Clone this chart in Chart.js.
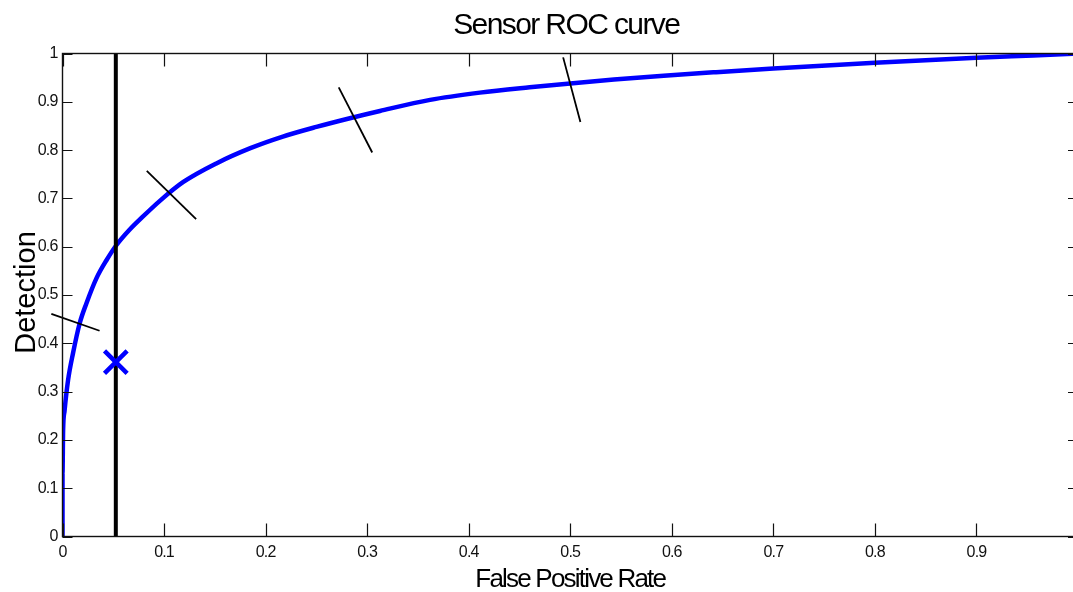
<!DOCTYPE html>
<html>
<head>
<meta charset="utf-8">
<title>Sensor ROC curve</title>
<script src="https://cdn.jsdelivr.net/npm/chart.js@4/dist/chart.umd.min.js"></script>
<style>
  html, body { margin: 0; padding: 0; background: #fff; overflow: hidden; }
  canvas { display: block; }
</style>
</head>
<body>
<canvas id="roc" width="1078" height="592"></canvas>
<script>
// ROC curve: false positive rate vs detection probability
const fpr = [0, 0, 0.0006, 0.002, 0.0055, 0.0104, 0.017, 0.0236, 0.0335, 0.0433, 0.053, 0.066, 0.078,
             0.097, 0.119, 0.152, 0.185, 0.217, 0.25, 0.283, 0.3126, 0.362, 0.411, 0.46, 0.50, 0.543,
             0.592, 0.641, 0.70, 0.80, 0.90, 0.956, 1.0];
const detection = [0, 0.13, 0.22, 0.26, 0.324, 0.38, 0.442, 0.483, 0.535, 0.572, 0.603, 0.635, 0.66,
                   0.697, 0.734, 0.773, 0.804, 0.828, 0.848, 0.866, 0.881, 0.904, 0.919, 0.930, 0.938, 0.946,
                   0.954, 0.961, 0.969, 0.981, 0.991, 0.996, 1.0];

// short threshold marks crossing the curve (start / end points)
const markStartFpr = [-0.011, 0.083, 0.272, 0.493];
const markStartDet = [0.461, 0.757, 0.930, 0.992];
const markEndFpr   = [0.0365, 0.1316, 0.305, 0.510];
const markEndDet   = [0.426, 0.657, 0.795, 0.858];

// operating threshold and measured sensor point
const thresholdFpr = 0.0525;
const operatingFpr = 0.0525;
const operatingDet = 0.361;

// axis ticks and their labels
const xTickValues = [0, 0.1, 0.2, 0.3, 0.4, 0.5, 0.6, 0.7, 0.8, 0.9, 1];
const xTickLabels = ['0', '0.1', '0.2', '0.3', '0.4', '0.5', '0.6', '0.7', '0.8', '0.9', ''];
const yTickValues = [0, 0.1, 0.2, 0.3, 0.4, 0.5, 0.6, 0.7, 0.8, 0.9, 1];
const yTickLabels = ['0', '0.1', '0.2', '0.3', '0.4', '0.5', '0.6', '0.7', '0.8', '0.9', '1'];

const titleText = 'Sensor ROC curve';
const xTitleText = 'False Positive Rate';
const yTitleText = 'Detection';

const FONT = '"Liberation Sans", Arial, Helvetica, sans-serif';

const curvePoints = fpr.map((x, i) => ({ x, y: detection[i] }));
const markDatasets = markStartFpr.map((x, i) => ({
  data: [{ x, y: markStartDet[i] }, { x: markEndFpr[i], y: markEndDet[i] }],
  borderColor: '#000',
  borderWidth: 1.8,
  pointRadius: 0,
  showLine: true,
  clip: false,
  order: 1
}));

// frame, inward tick marks and texts
const framePlugin = {
  id: 'frame',
  beforeDraw(chart) {
    chart.ctx.letterSpacing = '-0.8px';
  },
  afterDraw(chart) {
    const { ctx, chartArea: a, scales: { x, y } } = chart;
    ctx.save();
    ctx.strokeStyle = '#111';
    ctx.lineWidth = 1.4;
    ctx.strokeRect(a.left, a.top, a.right - a.left, a.bottom - a.top);
    ctx.lineWidth = 1.2;
    ctx.beginPath();
    xTickValues.forEach(v => {
      const px = Math.round(x.getPixelForValue(v)) + 0.5;
      ctx.moveTo(px, a.bottom); ctx.lineTo(px, a.bottom - 13);
      ctx.moveTo(px, a.top); ctx.lineTo(px, a.top + 13);
    });
    yTickValues.forEach(v => {
      const py = Math.round(y.getPixelForValue(v)) + 0.5;
      ctx.moveTo(a.left, py); ctx.lineTo(a.left + 10, py);
      ctx.moveTo(a.right, py); ctx.lineTo(a.right - 10, py);
    });
    ctx.stroke();

    ctx.fillStyle = '#000';
    ctx.textAlign = 'center';
    ctx.textBaseline = 'alphabetic';
    const cx = (a.left + a.right) / 2;
    ctx.font = '30px ' + FONT;
    ctx.letterSpacing = '-1.6px';
    ctx.fillText(titleText, cx - 4, 34);
    ctx.font = '26px ' + FONT;
    ctx.letterSpacing = '-1.8px';
    ctx.fillText(xTitleText, cx, 587);
    ctx.font = '29px ' + FONT;
    ctx.letterSpacing = '0px';
    ctx.translate(35, (a.top + a.bottom) / 2 - 2.5);
    ctx.rotate(-Math.PI / 2);
    ctx.fillText(yTitleText, 0, 0);
    ctx.restore();
  }
};

new Chart(document.getElementById('roc'), {
  type: 'scatter',
  data: {
    datasets: [
      {
        data: [{ x: operatingFpr, y: operatingDet }],
        pointStyle: 'crossRot',
        pointRadius: 16,
        pointBorderWidth: 4.5,
        borderColor: '#0000ff',
        backgroundColor: '#0000ff',
        showLine: false,
        order: 0
      },
      {
        data: [{ x: thresholdFpr, y: 0 }, { x: thresholdFpr, y: 1 }],
        borderColor: '#000',
        borderWidth: 4,
        pointRadius: 0,
        showLine: true,
        order: 1
      },
      ...markDatasets,
      {
        data: curvePoints,
        borderColor: '#0000ff',
        borderWidth: 4.5,
        borderJoinStyle: 'round',
        pointRadius: 0,
        showLine: true,
        cubicInterpolationMode: 'monotone',
        order: 2
      }
    ]
  },
  options: {
    responsive: false,
    animation: false,
    layout: { autoPadding: false, padding: { top: 53.5, right: 0, left: 0, bottom: 0 } },
    plugins: { legend: { display: false }, tooltip: { enabled: false }, title: { display: false } },
    scales: {
      x: {
        type: 'linear',
        min: 0,
        max: 1,
        afterBuildTicks: s => { s.ticks = xTickValues.map(v => ({ value: v })); },
        afterFit: s => { s.height = 55.5; s.paddingLeft = 0; s.paddingRight = 0; },
        grid: { display: false, drawTicks: false },
        border: { display: false },
        ticks: {
          padding: 6,
          color: '#111',
          font: { family: FONT, size: 16 },
          maxRotation: 0,
          autoSkip: false,
          callback: (v, i) => xTickLabels[i]
        }
      },
      y: {
        type: 'linear',
        min: 0,
        max: 1,
        afterBuildTicks: s => { s.ticks = yTickValues.map(v => ({ value: v })); },
        afterFit: s => { s.width = 62.5; s.paddingTop = 0; s.paddingBottom = 0; },
        grid: { display: false, drawTicks: false },
        border: { display: false },
        ticks: {
          padding: 5,
          color: '#111',
          font: { family: FONT, size: 16 },
          autoSkip: false,
          callback: (v, i) => yTickLabels[i]
        }
      }
    }
  },
  plugins: [framePlugin]
});
</script>
</body>
</html>
